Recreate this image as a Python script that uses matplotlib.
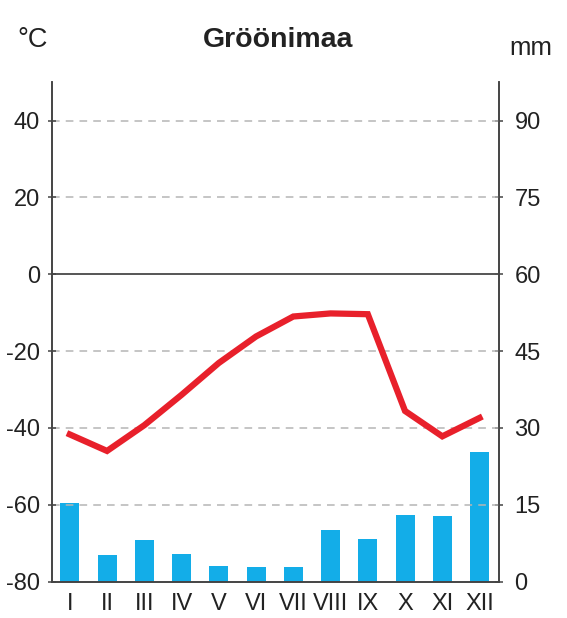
import matplotlib
matplotlib.use("Agg")
import matplotlib.pyplot as plt

months = ["I", "II", "III", "IV", "V", "VI", "VII", "VIII", "IX", "X", "XI", "XII"]
temperature = [-41.7, -46.0, -39.3, -31.4, -23.1, -16.2, -11.0, -10.2, -10.4, -35.6, -42.2, -37.4]
precipitation = [15.3, 5.1, 8.1, 5.4, 3.0, 2.9, 2.9, 10.0, 8.3, 12.9, 12.8, 25.2]
temp_ticks = [40, 20, 0, -20, -40, -60, -80]
prec_ticks = [0, 15, 30, 45, 60, 75, 90]
title = "Gröönimaa"

plt.rcParams['font.family'] = ['Liberation Sans', 'DejaVu Sans']

fig = plt.figure(figsize=(5.67, 6.18), dpi=100)
ax = fig.add_axes([0.0922, 0.059, 0.7884, 0.808])
ax2 = ax.twinx()

x = list(range(len(months)))
ax.set_xlim(-0.47, 11.53)
ax.set_ylim(-80, 50)
ax2.set_ylim(0, 97.5)

# precipitation bars on the mm axis
ax2.bar(x, precipitation, width=0.51, color="#13ADE8", zorder=2)
# gridlines on temperature axis
for t in temp_ticks:
    if t == 0:
        ax.axhline(0, color="#555555", lw=1.4, zorder=1)
    elif t != -80:
        ax.axhline(t, color="#b5b5b5", lw=1.1, ls=(0, (5, 4)), zorder=1)

ax.set_zorder(ax2.get_zorder() + 1)
ax.patch.set_visible(False)
ax.plot(x, temperature, color="#E8202B", lw=4.5, solid_joinstyle="miter", zorder=5)

for a in (ax, ax2):
    a.spines['top'].set_visible(False)
    for s in ('left', 'right', 'bottom'):
        a.spines[s].set_color("#444444")
        a.spines[s].set_linewidth(1.2)

ax.set_yticks(temp_ticks)
ax.set_yticklabels([str(t) for t in temp_ticks])
ax2.set_yticks(prec_ticks)
ax2.set_yticklabels([str(p) for p in prec_ticks])
ax.set_xticks(x)
ax.set_xticklabels(months)

ax.tick_params(axis='y', direction='inout', length=6, width=1.1, color="#444444",
               labelsize=17, pad=6, labelcolor="#222222")
ax2.tick_params(axis='y', direction='inout', length=6, width=1.1, color="#444444",
                labelsize=17, pad=8, labelcolor="#222222")
ax.tick_params(axis='x', length=0, labelsize=17, pad=8, labelcolor="#222222")
ax2.tick_params(axis='x', length=0)

fig.text(0.490, 0.9348, title, ha="center", va="center", fontsize=20.5,
         fontweight="bold", color="#222222")
fig.text(0.030, 0.9345, "°C", ha="left", va="center", fontsize=19.5, color="#222222")
fig.text(0.898, 0.922, "mm", ha="left", va="center", fontsize=18.5, color="#222222")

fig.savefig("out.png", dpi=100)
